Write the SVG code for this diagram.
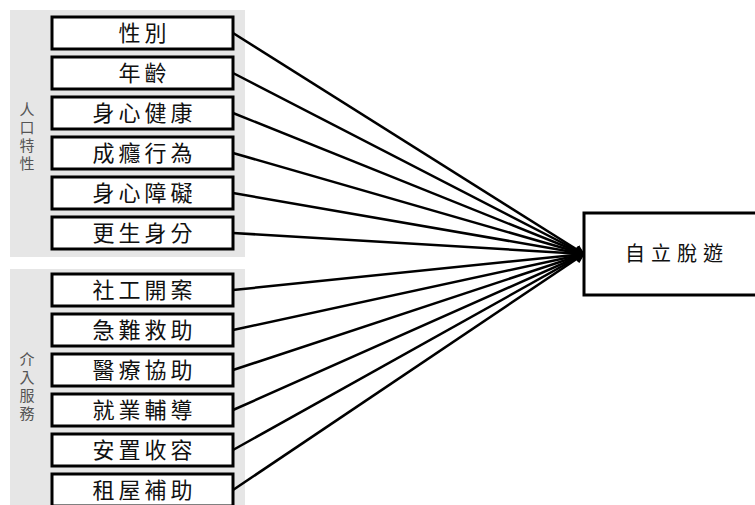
<svg xmlns="http://www.w3.org/2000/svg" width="755" height="505" viewBox="0 0 755 505">
<style>
.panel{fill:#e6e6e6;stroke:none}
.box{fill:#ffffff;stroke:#000;stroke-width:3}
.lbl{font-family:"Noto Sans CJK TC","Noto Sans CJK SC",sans-serif;font-size:22px;fill:#111;text-anchor:middle;letter-spacing:4px}
.side{font-family:"Noto Sans CJK TC","Noto Sans CJK SC",sans-serif;font-size:15px;fill:#555;writing-mode:vertical-rl;letter-spacing:3px}
.con{stroke:#000;stroke-width:2.5;fill:none;marker-end:url(#ah)}
</style>
<defs>
<marker id="ah" markerWidth="10" markerHeight="10" refX="9" refY="5" orient="auto" markerUnits="userSpaceOnUse">
<path d="M0,0 L10,5 L0,10 Z" fill="#000"/>
</marker>
</defs>
<rect width="755" height="505" fill="#fff"/>
<g id="panel-demographic">
<rect class="panel" x="10" y="10" width="235" height="247"/>
<text class="side" x="27" y="102">人口特性</text>
</g>
<g id="panel-intervention">
<rect class="panel" x="10" y="269" width="235" height="240"/>
<text class="side" x="27" y="352">介入服務</text>
</g>
<g id="connectors">
<line class="con" x1="233" y1="33" x2="584" y2="254"/>
<line class="con" x1="233" y1="73" x2="584" y2="254"/>
<line class="con" x1="233" y1="113" x2="584" y2="254"/>
<line class="con" x1="233" y1="153" x2="584" y2="254"/>
<line class="con" x1="233" y1="193" x2="584" y2="254"/>
<line class="con" x1="233" y1="233" x2="584" y2="254"/>
<line class="con" x1="233" y1="290" x2="584" y2="254"/>
<line class="con" x1="233" y1="330" x2="584" y2="254"/>
<line class="con" x1="233" y1="370" x2="584" y2="254"/>
<line class="con" x1="233" y1="410" x2="584" y2="254"/>
<line class="con" x1="233" y1="450" x2="584" y2="254"/>
<line class="con" x1="233" y1="490" x2="584" y2="254"/>
</g>
<g id="n-gender"><rect class="box" x="52" y="17" width="181" height="32"/><text class="lbl" x="144.5" y="41">性別</text></g>
<g id="n-age"><rect class="box" x="52" y="57" width="181" height="32"/><text class="lbl" x="144.5" y="81">年齡</text></g>
<g id="n-health"><rect class="box" x="52" y="97" width="181" height="32"/><text class="lbl" x="144.5" y="121">身心健康</text></g>
<g id="n-addiction"><rect class="box" x="52" y="137" width="181" height="32"/><text class="lbl" x="144.5" y="161">成癮行為</text></g>
<g id="n-disability"><rect class="box" x="52" y="177" width="181" height="32"/><text class="lbl" x="144.5" y="201">身心障礙</text></g>
<g id="n-exoffender"><rect class="box" x="52" y="217" width="181" height="32"/><text class="lbl" x="144.5" y="241">更生身分</text></g>
<g id="n-casework"><rect class="box" x="52" y="274" width="181" height="32"/><text class="lbl" x="144.5" y="298">社工開案</text></g>
<g id="n-emergency"><rect class="box" x="52" y="314" width="181" height="32"/><text class="lbl" x="144.5" y="338">急難救助</text></g>
<g id="n-medical"><rect class="box" x="52" y="354" width="181" height="32"/><text class="lbl" x="144.5" y="378">醫療協助</text></g>
<g id="n-employment"><rect class="box" x="52" y="394" width="181" height="32"/><text class="lbl" x="144.5" y="418">就業輔導</text></g>
<g id="n-shelter"><rect class="box" x="52" y="434" width="181" height="32"/><text class="lbl" x="144.5" y="458">安置收容</text></g>
<g id="n-rent"><rect class="box" x="52" y="474" width="181" height="32"/><text class="lbl" x="144.5" y="498">租屋補助</text></g>
<g id="n-outcome"><rect class="box" x="584" y="213" width="174" height="82"/><text class="lbl" x="677" y="261" style="font-size:20px;letter-spacing:6px">自立脫遊</text></g>
</svg>
